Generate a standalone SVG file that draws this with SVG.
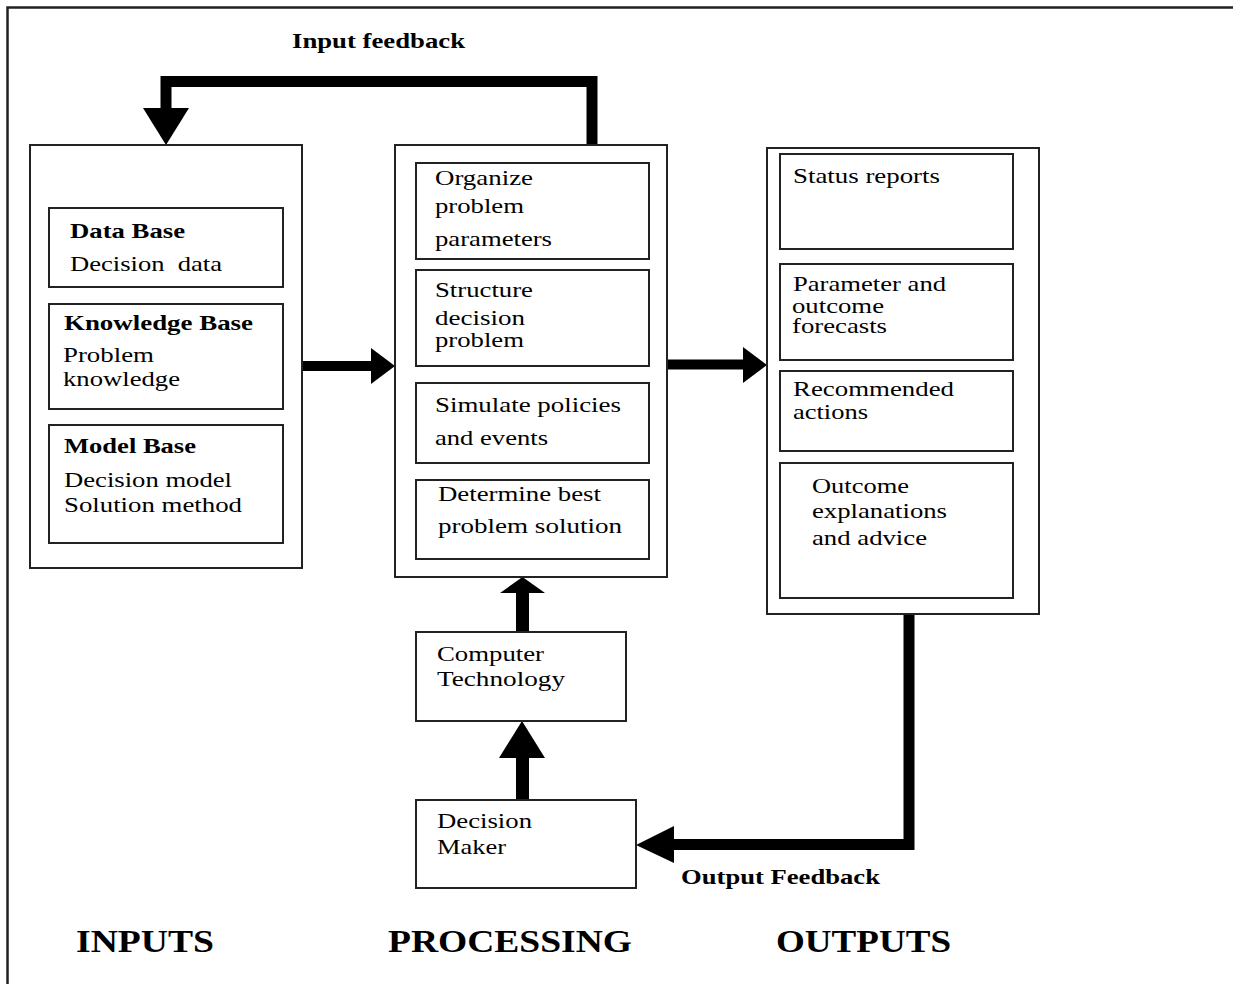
<svg xmlns="http://www.w3.org/2000/svg" width="1233" height="984" viewBox="0 0 1233 984">
<defs>
<style>
.box{fill:#fff;stroke:#222;stroke-width:2}
.t{font-family:"Liberation Serif","Times New Roman",serif;font-size:22px;fill:#000}
.b{font-weight:bold}
.big{font-family:"Liberation Serif","Times New Roman",serif;font-size:32px;font-weight:bold;fill:#000}
.line{fill:none;stroke:#000;stroke-linejoin:miter}
.head{fill:#000}
</style>
</defs>
<rect width="1233" height="984" fill="#fff"/>
<polyline points="7.5,984 7.5,7.5 1233,7.5" fill="none" stroke="#222" stroke-width="2.5"/>

<g id="connectors">
<polyline class="line" stroke-width="11" points="592,145 592,81.5 166,81.5 166,110"/>
<polygon class="head" points="143,108 189,108 166,145"/>
<line class="line" stroke-width="10" x1="302" y1="366" x2="373" y2="366"/>
<polygon class="head" points="371,348 371,384 395,366"/>
<line class="line" stroke-width="10" x1="667" y1="364.5" x2="745" y2="364.5"/>
<polygon class="head" points="743,347 743,383 767,365"/>
<line class="line" stroke-width="13" x1="522.5" y1="632" x2="522.5" y2="591"/>
<polygon class="head" points="500,593 545,593 522.5,577"/>
<line class="line" stroke-width="13" x1="522.5" y1="800" x2="522.5" y2="756"/>
<polygon class="head" points="499,758 545,758 522,721"/>
<polyline class="line" stroke-width="11" points="909,614 909,844.5 672,844.5"/>
<polygon class="head" points="674,826 674,863 636,845"/>
</g>

<g id="input-feedback-label"><text class="t b" x="292" y="48" textLength="173" lengthAdjust="spacingAndGlyphs">Input feedback</text></g>

<g id="inputs">
<rect class="box" x="30" y="145" width="272" height="423"/>
</g>
<g id="data-base">
<rect class="box" x="49" y="208" width="234" height="79"/>
<text class="t b" x="70" y="238" textLength="115" lengthAdjust="spacingAndGlyphs">Data Base</text>
<text class="t" x="70" y="271" textLength="152" lengthAdjust="spacingAndGlyphs" style="white-space:pre">Decision  data</text>
</g>
<g id="knowledge-base">
<rect class="box" x="49" y="304" width="234" height="105"/>
<text class="t b" x="64" y="330" textLength="189" lengthAdjust="spacingAndGlyphs">Knowledge Base</text>
<text class="t" x="63" y="362" textLength="91" lengthAdjust="spacingAndGlyphs">Problem</text>
<text class="t" x="63" y="386" textLength="117" lengthAdjust="spacingAndGlyphs">knowledge</text>
</g>
<g id="model-base">
<rect class="box" x="49" y="425" width="234" height="118"/>
<text class="t b" x="64" y="453" textLength="132" lengthAdjust="spacingAndGlyphs">Model Base</text>
<text class="t" x="64" y="487" textLength="168" lengthAdjust="spacingAndGlyphs">Decision model</text>
<text class="t" x="64" y="512" textLength="178" lengthAdjust="spacingAndGlyphs">Solution method</text>
</g>

<g id="processing">
<rect class="box" x="395" y="145" width="272" height="432"/>
</g>
<g id="organize">
<rect class="box" x="416" y="163" width="233" height="96"/>
<text class="t" x="435" y="185" textLength="98" lengthAdjust="spacingAndGlyphs">Organize</text>
<text class="t" x="435" y="213" textLength="89" lengthAdjust="spacingAndGlyphs">problem</text>
<text class="t" x="435" y="246" textLength="117" lengthAdjust="spacingAndGlyphs">parameters</text>
</g>
<g id="structure">
<rect class="box" x="416" y="270" width="233" height="96"/>
<text class="t" x="435" y="297" textLength="98" lengthAdjust="spacingAndGlyphs">Structure</text>
<text class="t" x="435" y="325" textLength="90" lengthAdjust="spacingAndGlyphs">decision</text>
<text class="t" x="435" y="347" textLength="89" lengthAdjust="spacingAndGlyphs">problem</text>
</g>
<g id="simulate">
<rect class="box" x="416" y="383" width="233" height="80"/>
<text class="t" x="435" y="412" textLength="186" lengthAdjust="spacingAndGlyphs">Simulate policies</text>
<text class="t" x="435" y="445" textLength="113" lengthAdjust="spacingAndGlyphs">and events</text>
</g>
<g id="determine">
<rect class="box" x="416" y="480" width="233" height="79"/>
<text class="t" x="438" y="501" textLength="163" lengthAdjust="spacingAndGlyphs">Determine best</text>
<text class="t" x="438" y="533" textLength="184" lengthAdjust="spacingAndGlyphs">problem solution</text>
</g>

<g id="outputs">
<rect class="box" x="767" y="148" width="272" height="466"/>
</g>
<g id="status">
<rect class="box" x="780" y="154" width="233" height="95"/>
<text class="t" x="793" y="183" textLength="147" lengthAdjust="spacingAndGlyphs">Status reports</text>
</g>
<g id="parameter">
<rect class="box" x="780" y="264" width="233" height="96"/>
<text class="t" x="793" y="291" textLength="153" lengthAdjust="spacingAndGlyphs">Parameter and</text>
<text class="t" x="792" y="313" textLength="92" lengthAdjust="spacingAndGlyphs">outcome</text>
<text class="t" x="792" y="333" textLength="95" lengthAdjust="spacingAndGlyphs">forecasts</text>
</g>
<g id="recommended">
<rect class="box" x="780" y="371" width="233" height="80"/>
<text class="t" x="793" y="396" textLength="161" lengthAdjust="spacingAndGlyphs">Recommended</text>
<text class="t" x="793" y="419" textLength="75" lengthAdjust="spacingAndGlyphs">actions</text>
</g>
<g id="outcome">
<rect class="box" x="780" y="463" width="233" height="135"/>
<text class="t" x="812" y="493" textLength="97" lengthAdjust="spacingAndGlyphs">Outcome</text>
<text class="t" x="812" y="518" textLength="135" lengthAdjust="spacingAndGlyphs">explanations</text>
<text class="t" x="812" y="545" textLength="115" lengthAdjust="spacingAndGlyphs">and advice</text>
</g>

<g id="computer-technology">
<rect class="box" x="416" y="632" width="210" height="89"/>
<text class="t" x="437" y="661" textLength="107" lengthAdjust="spacingAndGlyphs">Computer</text>
<text class="t" x="437" y="686" textLength="128" lengthAdjust="spacingAndGlyphs">Technology</text>
</g>
<g id="decision-maker">
<rect class="box" x="416" y="800" width="220" height="88"/>
<text class="t" x="437" y="828" textLength="95" lengthAdjust="spacingAndGlyphs">Decision</text>
<text class="t" x="437" y="854" textLength="69" lengthAdjust="spacingAndGlyphs">Maker</text>
</g>

<g id="output-feedback-label"><text class="t b" x="681" y="884" textLength="199" lengthAdjust="spacingAndGlyphs">Output Feedback</text></g>

<g id="section-labels">
<text class="big" x="76" y="952" textLength="138" lengthAdjust="spacingAndGlyphs">INPUTS</text>
<text class="big" x="388" y="952" textLength="244" lengthAdjust="spacingAndGlyphs">PROCESSING</text>
<text class="big" x="776" y="952" textLength="175" lengthAdjust="spacingAndGlyphs">OUTPUTS</text>
</g>
</svg>
